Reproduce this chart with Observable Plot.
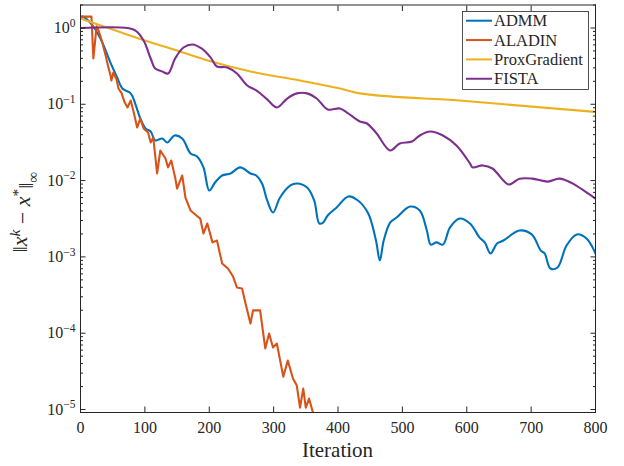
<!DOCTYPE html>
<html><head><meta charset="utf-8">
<script src="https://cdn.jsdelivr.net/npm/d3@7"></script>
<script src="https://cdn.jsdelivr.net/npm/@observablehq/plot@0.6"></script>
<style>html,body{margin:0;padding:0;background:#fff;}</style>
</head><body><div id="chart"></div>
<script>
const seriesNames = ["ADMM", "ALADIN", "ProxGradient", "FISTA"];
const seriesColors = ["#0072BD", "#D95319", "#EDB120", "#7E2F8E"];

// [iteration, ||x^k - x*||_inf]
const admm = [[0,1.35],[3,1.41],[16,1.15],[31,0.728],[47,0.343],[57,0.224],[65,0.161],[78,0.139],[85,0.102],[93,0.065],[101,0.0482],[109,0.044],[116,0.0336],[127,0.0356],[135,0.0316],[146,0.039],[158,0.0356],[171,0.0226],[181,0.0207],[191,0.0149],[200,0.00741],[209,0.00944],[220,0.01167],[233,0.0124],[248,0.0149],[264,0.0124],[273,0.01167],[282,0.00916],[290,0.00549],[299,0.00382],[310,0.0060],[326,0.00863],[336,0.00916],[352,0.00812],[363,0.00549],[371,0.00274],[377,0.00282],[384,0.00349],[398,0.00445],[416,0.0062],[431,0.00549],[447,0.00371],[459,0.00164],[465,0.000897],[471,0.00164],[481,0.00282],[491,0.00328],[512,0.00457],[527,0.00405],[538,0.00222],[544,0.00145],[553,0.00155],[563,0.00145],[574,0.00243],[589,0.00318],[605,0.00274],[620,0.00179],[628,0.00155],[637,0.00111],[647,0.0015],[657,0.00164],[682,0.00222],[701,0.00197],[715,0.00121],[721,0.00111],[730,0.000705],[741,0.000726],[755,0.00141],[771,0.00197],[786,0.00174],[800,0.00111]];

const aladin = [[0,1.41],[17,1.41],[20,0.398],[25,1.05],[28,0.927],[33,0.686],[39,0.436],[43,0.313],[47,0.231],[48,0.205],[51,0.261],[56,0.211],[59,0.161],[64,0.139],[68,0.109],[73,0.0908],[78,0.112],[82,0.083],[88,0.0497],[93,0.065],[98,0.0482],[105,0.0427],[109,0.0316],[113,0.0367],[119,0.0124],[124,0.0248],[132,0.0195],[136,0.0149],[141,0.0183],[147,0.011],[150,0.00787],[158,0.01167],[163,0.006],[171,0.00405],[180,0.00349],[186,0.00318],[191,0.00203],[197,0.00274],[205,0.00155],[212,0.00164],[220,0.000819],[229,0.000705],[237,0.000553],[243,0.000397],[251,0.000385],[256,0.000252],[264,0.000134],[268,0.000199],[279,0.000199],[287,6.31e-5],[293,9.9e-5],[299,6.49e-5],[305,7.32e-5],[315,2.7e-5],[322,4.38e-5],[330,2.55e-5],[336,2.06e-5],[341,1.06e-5],[346,1.88e-5],[350,1.06e-5],[355,1.39e-5],[363,8.0e-6]];

const proxGradient = [[0,1.33],[50,0.955],[100,0.686],[150,0.507],[198,0.375],[264,0.269],[341,0.205],[403,0.161],[434,0.139],[589,0.112],[800,0.0793]];

const fista = [[0,1.0],[73,1.0],[85,0.93],[98,0.686],[109,0.398],[116,0.294],[127,0.269],[136,0.253],[147,0.398],[160,0.555],[174,0.608],[188,0.539],[202,0.411],[212,0.313],[228,0.304],[243,0.253],[259,0.176],[273,0.152],[290,0.116],[305,0.0908],[321,0.119],[336,0.139],[352,0.139],[367,0.119],[384,0.0855],[403,0.0881],[414,0.078],[434,0.0595],[445,0.056],[460,0.0414],[481,0.0248],[496,0.0306],[515,0.0325],[527,0.039],[543,0.044],[563,0.039],[584,0.0288],[605,0.0168],[609,0.0149],[625,0.0158],[640,0.0144],[665,0.0089],[682,0.0106],[702,0.0106],[726,0.0097],[744,0.0106],[764,0.0092],[786,0.007],[800,0.00582]];

const xTicks = [0, 100, 200, 300, 400, 500, 600, 700, 800];
const yMajor = [1, 0.1, 0.01, 0.001, 0.0001, 0.00001];
const yDomain = [9.14e-6, 2.0];
const yMinor = [];
for (const d of [1e-6, 1e-5, 1e-4, 1e-3, 1e-2, 1e-1, 1]) for (const m of [2,3,4,5,6,7,8,9]) {
  const v = m * d;
  if (v >= yDomain[0] && v <= yDomain[1]) yMinor.push(v);
}

const seriesData = [admm, aladin, proxGradient, fista];
const curves = ["catmull-rom", "linear", "monotone-x", "catmull-rom"];
const toRows = (arr, name) => arr.map(([it, v]) => ({series: name, it, v}));

const ink = "#262626";
const font = "'Liberation Serif', 'Times New Roman', serif";

const chart = Plot.plot({
  width: 624, height: 466,
  marginLeft: 80, marginRight: 29, marginTop: 4.5, marginBottom: 54,
  style: {fontFamily: font, fontSize: "16px", color: ink, background: "#fff"},
  x: {domain: [0, 800], label: null},
  y: {type: "log", domain: yDomain, label: null},
  color: {domain: seriesNames, range: seriesColors},
  marks: [
    ...seriesData.map((arr, i) => Plot.line(toRows(arr, seriesNames[i]), {
      x: "it", y: "v", stroke: "series", strokeWidth: 2.1, curve: curves[i], clip: true
    })),
    Plot.axisX({anchor: "bottom", ticks: xTicks, tickSize: 0, tickPadding: 9, label: null, fontSize: 16}),
    Plot.axisX({anchor: "bottom", ticks: xTicks, tickSize: -5.5, fill: "none", label: null, stroke: ink}),
    Plot.axisX({anchor: "top", ticks: xTicks, tickSize: -5.5, fill: "none", label: null, stroke: ink}),
    Plot.axisY({anchor: "left", ticks: yMajor, tickSize: 0, tickPadding: 5, label: null, fontSize: 16,
      tickFormat: d => String(Math.round(Math.log10(d))).replace("-", "\u2212")}),
    Plot.axisY({anchor: "left", ticks: yMajor, tickSize: -5.5, fill: "none", label: null, stroke: ink}),
    Plot.axisY({anchor: "left", ticks: yMinor, tickSize: -3, fill: "none", label: null, stroke: ink}),
    Plot.axisY({anchor: "right", ticks: yMajor, tickSize: -5.5, fill: "none", label: null, stroke: ink}),
    Plot.axisY({anchor: "right", ticks: yMinor, tickSize: -3, fill: "none", label: null, stroke: ink}),
    Plot.frame({stroke: ink, strokeWidth: 1})
  ]
});

const svg = d3.select(chart);
// power-of-ten labels with superscripts
svg.selectAll('g[aria-label="y-axis tick label"] text').each(function () {
  const t = d3.select(this);
  const e = t.text();
  t.text("10");
  t.append("tspan").attr("dy", "-0.55em").attr("font-size", "0.72em").text(e);
});

// x label
svg.append("text").attr("x", 337.5).attr("y", 457).attr("text-anchor", "middle")
  .attr("font-family", font).attr("font-size", 21).attr("fill", ink).text("Iteration");

// y label: ||x^k - x^*||_inf
const yl = svg.append("text").attr("transform", "translate(27,212) rotate(-90)")
  .attr("text-anchor", "middle").attr("font-family", font).attr("font-size", 22).attr("fill", ink);
yl.append("tspan").text("\u2016");
yl.append("tspan").attr("font-style", "italic").text("x");
yl.append("tspan").attr("dy", "-0.45em").attr("font-size", "0.7em").attr("font-style", "italic").text("k");
yl.append("tspan").attr("dy", "0.45em").text(" \u2212 ");
yl.append("tspan").attr("font-style", "italic").text("x");
yl.append("tspan").attr("dy", "-0.45em").attr("font-size", "0.7em").text("*");
yl.append("tspan").attr("dy", "0.45em").text("\u2016");
yl.append("tspan").attr("dy", "0.3em").attr("font-size", "0.7em").text("\u221E");

// legend
const lg = svg.append("g");
lg.append("rect").attr("x", 462.5).attr("y", 11.5).attr("width", 126).attr("height", 78)
  .attr("fill", "#fff").attr("stroke", ink).attr("stroke-width", 0.8);
seriesNames.forEach((name, i) => {
  const y = 20.7 + i * 19.35;
  lg.append("line").attr("x1", 466).attr("x2", 492).attr("y1", y).attr("y2", y)
    .attr("stroke", seriesColors[i]).attr("stroke-width", 2);
  lg.append("text").attr("x", 494).attr("y", y).attr("dy", "0.34em").attr("text-anchor", "start")
    .attr("font-family", font).attr("font-size", 16.5).attr("fill", ink).text(name);
});

document.getElementById("chart").append(chart);
</script>
</body></html>
